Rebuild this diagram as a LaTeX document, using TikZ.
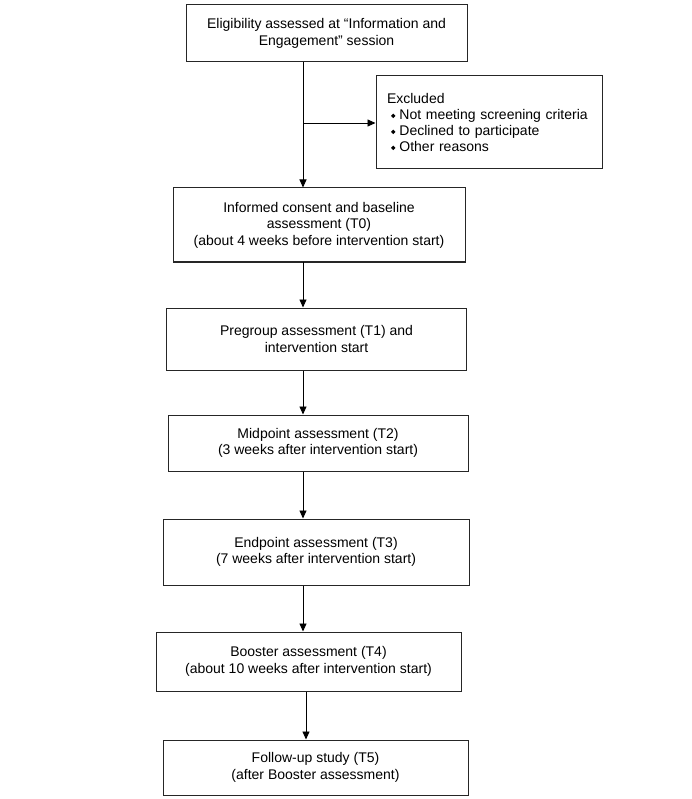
\documentclass[tikz,border=0pt]{standalone}
\usepackage{fontspec}
\setmainfont{Liberation Sans}
\usetikzlibrary{arrows.meta}
\newcommand\dmd{\tikz[baseline=0pt]\fill (0pt,3.6pt) -- (2.2pt,5.8pt) -- (4.4pt,3.6pt) -- (2.2pt,1.4pt) -- cycle;}
\tikzset{
  box/.style={draw=black!85, line width=1pt, inner sep=0pt, align=center,
    font=\fontsize{14}{16.5}\selectfont},
  arr/.style={draw=black, line width=0.9pt, -{Triangle[length=8pt,width=7pt]}}
}
\begin{document}
\begin{tikzpicture}[x=1pt,y=-1pt]
\useasboundingbox (0,0) rectangle (692,799);
\node[box, minimum width=281pt, minimum height=57pt] (b1) at (326.5,33.5)
  {Eligibility assessed at “Information and\\Engagement” session};
\node[box, minimum width=226pt, minimum height=93pt, text width=204pt, align=left,
  font=\fontsize{14}{16}\selectfont] (ex) at (489,122.5)
  {Excluded\\
   \hspace*{4pt}\dmd\hspace{4pt}Not meeting screening criteria\\
   \hspace*{4pt}\dmd\hspace{4pt}Declined to participate\\
   \hspace*{4pt}\dmd\hspace{4pt}Other reasons};
\node[box, minimum width=292pt, minimum height=74pt] (t0) at (319,225)
  {Informed consent and baseline\\assessment (T0)\\(about 4 weeks before intervention start)};
\node[box, minimum width=300pt, minimum height=62pt] (t1) at (316.5,339)
  {Pregroup assessment (T1) and\\intervention start};
\node[box, minimum width=300pt, minimum height=56pt] (t2) at (318,443)
  {Midpoint assessment (T2)\\(3 weeks after intervention start)};
\node[box, minimum width=306pt, minimum height=66pt] (t3) at (316,552)
  {Endpoint assessment (T3)\\(7 weeks after intervention start)};
\node[box, minimum width=305pt, minimum height=59pt] (t4) at (308.5,661.5)
  {Booster assessment (T4)\\(about 10 weeks after intervention start)};
\node[box, minimum width=305pt, minimum height=55pt] (t5) at (315.5,767.5)
  {Follow-up study (T5)\\(after Booster assessment)};
\coordinate (br) at (303,123);
\coordinate (vx) at (303,0);
\coordinate (vy) at (306,0);
\draw[arr] (b1.south -| vx) -- (t0.north -| vx);
\draw[arr] (br) -- (br -| ex.west);
\draw[arr] (t0.south -| vx) -- (t1.north -| vx);
\draw[arr] (t1.south -| vx) -- (t2.north -| vx);
\draw[arr] (t2.south -| vx) -- (t3.north -| vx);
\draw[arr] (t3.south -| vx) -- (t4.north -| vx);
\draw[arr] (t4.south -| vy) -- (t5.north -| vy);
\end{tikzpicture}
\end{document}
